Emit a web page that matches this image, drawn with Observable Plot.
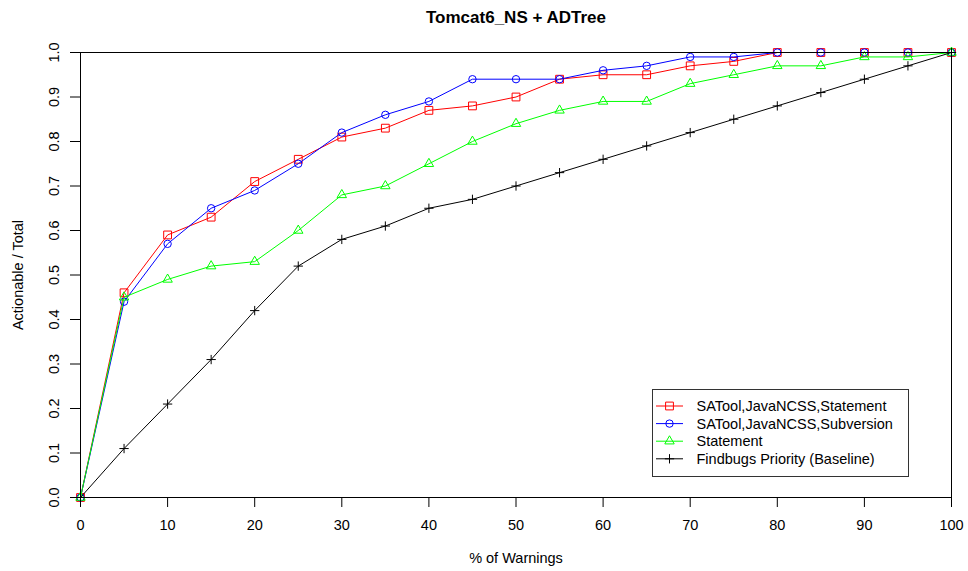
<!DOCTYPE html>
<html>
<head>
<meta charset="utf-8">
<script src="https://cdn.jsdelivr.net/npm/d3@7"></script>
<script src="https://cdn.jsdelivr.net/npm/@observablehq/plot@0.6"></script>
<style>
  html, body { margin: 0; padding: 0; background: #fff; }
  #wrap { position: relative; width: 968px; height: 571px; font-family: "Liberation Sans", Arial, Helvetica, sans-serif; }
  #legend { position: absolute; left: 652px; top: 389px; }
</style>
</head>
<body>
<div id="wrap"></div>
<script>
// ---- data ----
const pct = [0, 5, 10, 15, 20, 25, 30, 35, 40, 45, 50, 55, 60, 65, 70, 75, 80, 85, 90, 95, 100];
const seriesNames = [
  "SATool,JavaNCSS,Statement",
  "SATool,JavaNCSS,Subversion",
  "Statement",
  "Findbugs Priority (Baseline)"
];
const redVals   = [0, 0.46, 0.59, 0.63, 0.71, 0.76, 0.81, 0.83, 0.87, 0.88, 0.90, 0.94, 0.95, 0.95, 0.97, 0.98, 1.00, 1.00, 1.00, 1.00, 1.00];
const blueVals  = [0, 0.44, 0.57, 0.65, 0.69, 0.75, 0.82, 0.86, 0.89, 0.94, 0.94, 0.94, 0.96, 0.97, 0.99, 0.99, 1.00, 1.00, 1.00, 1.00, 1.00];
const greenVals = [0, 0.45, 0.49, 0.52, 0.53, 0.60, 0.68, 0.70, 0.75, 0.80, 0.84, 0.87, 0.89, 0.89, 0.93, 0.95, 0.97, 0.97, 0.99, 0.99, 1.00];
const blackVals = [0, 0.11, 0.21, 0.31, 0.42, 0.52, 0.58, 0.61, 0.65, 0.67, 0.70, 0.73, 0.76, 0.79, 0.82, 0.85, 0.88, 0.91, 0.94, 0.97, 1.00];
const seriesValues = [redVals, blueVals, greenVals, blackVals];
const seriesColors = ["#ff0000", "#0000ff", "#00ff00", "#000000"];
const seriesSymbols = ["square", "circle", "triangle2", "plus"];
const seriesR = [4.4, 3.7, 4.5, 3.1];
const xTicks = [0, 10, 20, 30, 40, 50, 60, 70, 80, 90, 100];
const yTicks = [0, 0.1, 0.2, 0.3, 0.4, 0.5, 0.6, 0.7, 0.8, 0.9, 1.0];
const titleText = "Tomcat6_NS + ADTree";
const xLabel = "% of Warnings";
const yLabel = "Actionable / Total";

const FONT = "\"Liberation Sans\", Arial, Helvetica, sans-serif";

const rows = seriesNames.map((name, i) =>
  pct.map((p, j) => ({series: name, x: p, y: seriesValues[i][j]}))
);

const seriesMarks = rows.flatMap((data, i) => [
  Plot.line(data, {x: "x", y: "y", stroke: seriesColors[i], strokeWidth: 1}),
  Plot.dot(data, {x: "x", y: "y", stroke: seriesColors[i], fill: "none", strokeWidth: 1,
                  symbol: seriesSymbols[i], r: seriesR[i]})
]);

const chart = Plot.plot({
  width: 968,
  height: 571,
  marginLeft: 80,
  marginRight: 17,
  marginTop: 52,
  marginBottom: 74,
  x: {domain: [0, 100]},
  y: {domain: [0, 1]},
  style: {fontFamily: FONT, fontSize: "14.5px", color: "#000", background: "#fff", overflow: "visible"},
  marks: [
    Plot.axisX({ticks: xTicks, tickSize: 10, tickPadding: 12, label: null, fontSize: 14.5}),
    Plot.axisY({ticks: yTicks, tickSize: 10, tickPadding: 12, tickRotate: -90,
                tickFormat: d3.format(".1f"), label: null, fontSize: 14.5}),
    ...seriesMarks,
    Plot.frame({stroke: "#000", strokeWidth: 1}),
    Plot.text([titleText], {frameAnchor: "top", dy: -35, lineAnchor: "middle",
                            fontWeight: "bold", fontSize: 17}),
    Plot.text([xLabel], {frameAnchor: "bottom", dy: 61, lineAnchor: "middle", fontSize: 14.5}),
    Plot.text([yLabel], {frameAnchor: "left", dx: -62, rotate: -90, textAnchor: "middle",
                         lineAnchor: "middle", fontSize: 14.5})
  ]
});

const wrap = document.getElementById("wrap");
wrap.appendChild(chart);

// ---- legend ----
const lw = 256, lh = 87;
const leg = d3.select(wrap).append("svg")
  .attr("id", "legend")
  .attr("width", lw + 2).attr("height", lh + 2)
  .style("font-family", FONT);
leg.append("rect").attr("x", 0.5).attr("y", 0.5).attr("width", lw).attr("height", lh)
  .attr("fill", "#fff").attr("stroke", "#333").attr("stroke-width", 1);
const symMap = {square: d3.symbolSquare, circle: d3.symbolCircle, triangle2: d3.symbolTriangle2, plus: d3.symbolPlus};
seriesNames.forEach((name, i) => {
  const cy = 17 + i * 17.6;
  const g = leg.append("g").attr("transform", `translate(0,${cy})`);
  g.append("line").attr("x1", 4).attr("x2", 31).attr("y1", 0).attr("y2", 0)
    .attr("stroke", seriesColors[i]).attr("stroke-width", 1);
  g.append("path").attr("transform", "translate(17.5,0)")
    .attr("d", d3.symbol(symMap[seriesSymbols[i]], Math.PI * seriesR[i] * seriesR[i])())
    .attr("fill", "none").attr("stroke", seriesColors[i]).attr("stroke-width", 1);
  g.append("text").attr("x", 44.5).attr("y", 0).attr("dy", "0.35em")
    .attr("font-size", 14.5).attr("fill", "#000").text(name);
});
</script>
</body>
</html>
